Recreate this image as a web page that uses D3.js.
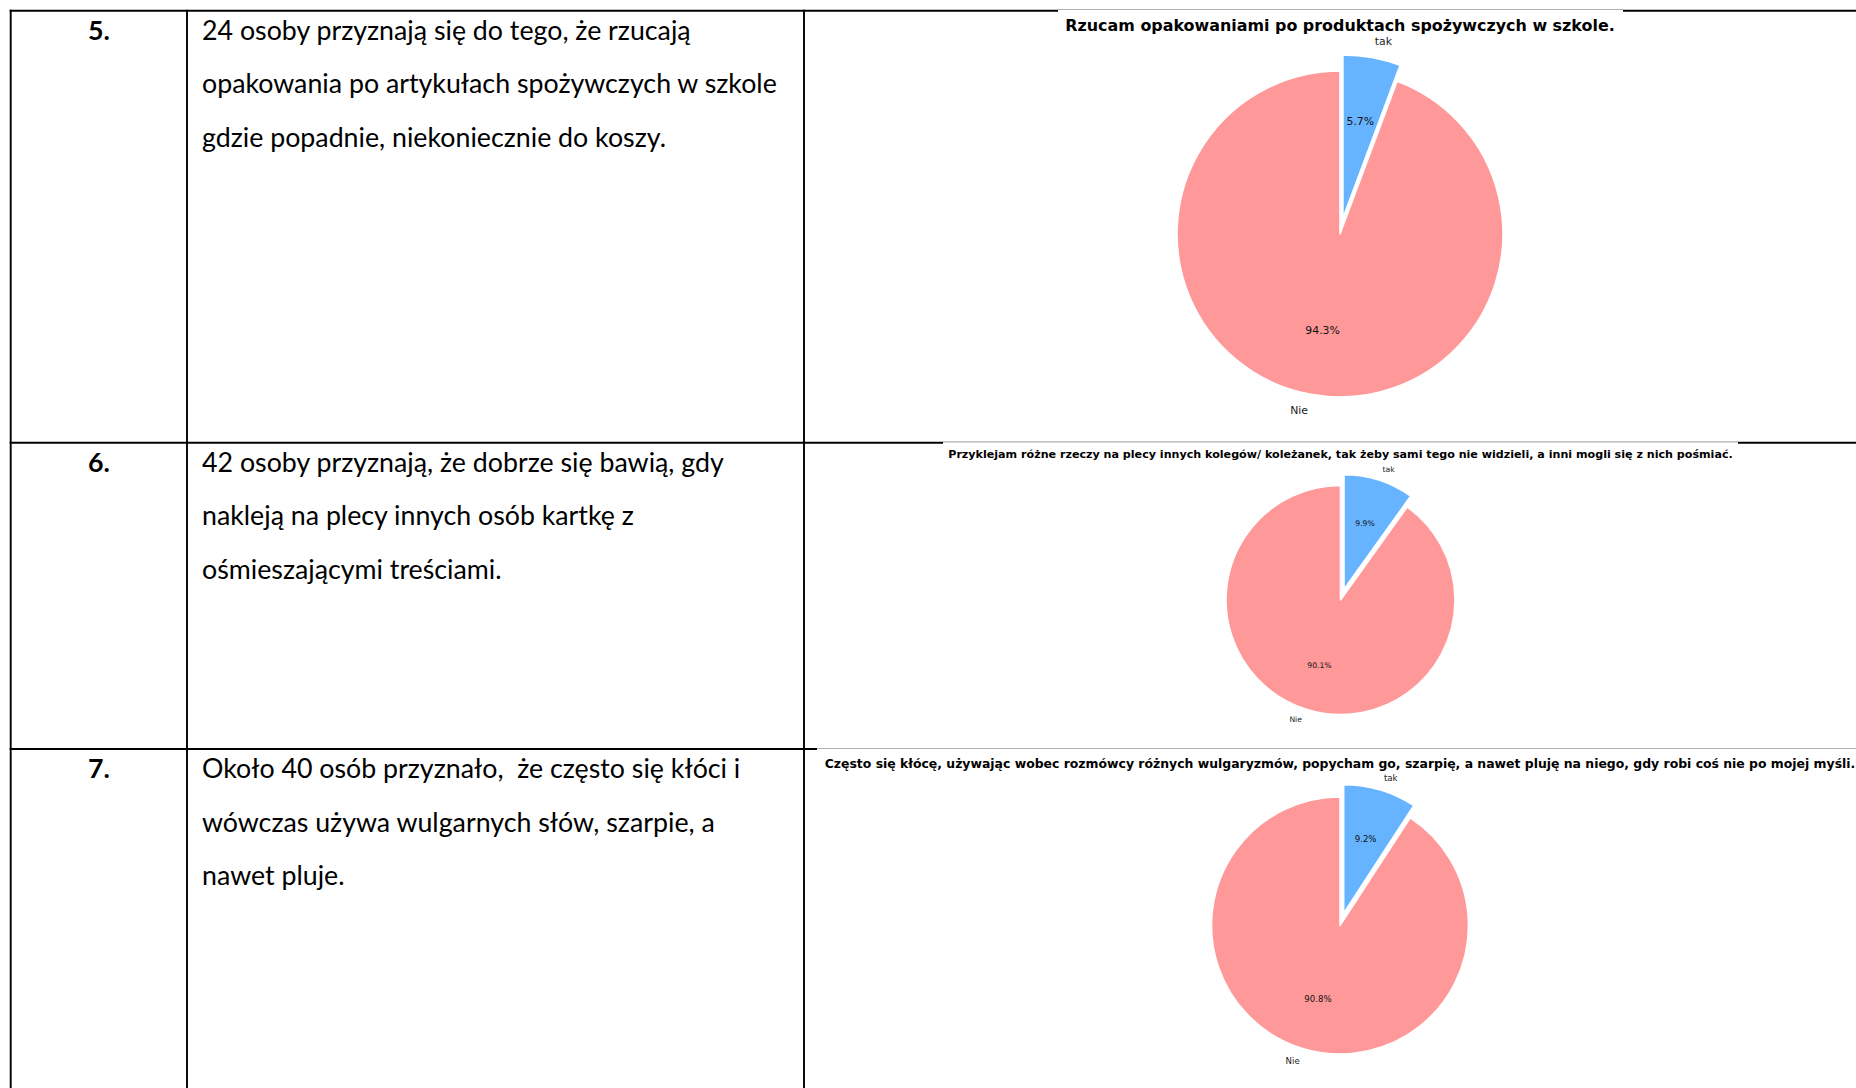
<!DOCTYPE html>
<html><head><meta charset="utf-8">
<script src="https://cdn.jsdelivr.net/npm/d3@7"></script>
<style>html,body{margin:0;padding:0;background:#fff;overflow:hidden}</style>
</head><body>
<svg id="c" width="1856" height="1088"></svg>
<script>
// ---- data ----
const rowNumbers = ["5.", "6.", "7."];
const rowTexts = [
  ["24 osoby przyznają się do tego, że rzucają", "opakowania po artykułach spożywczych w szkole", "gdzie popadnie, niekoniecznie do koszy."],
  ["42 osoby przyznają, że dobrze się bawią, gdy", "nakleją na plecy innych osób kartkę z", "ośmieszającymi treściami."],
  ["Około 40 osób przyznało,  że często się kłóci i", "wówczas używa wulgarnych słów, szarpie, a", "nawet pluje."]
];
const chartTitles = [
  "Rzucam opakowaniami po produktach spożywczych w szkole.",
  "Przyklejam różne rzeczy na plecy innych kolegów/ koleżanek, tak żeby sami tego nie widzieli, a inni mogli się z nich pośmiać.",
  "Często się kłócę, używając wobec rozmówcy różnych wulgaryzmów, popycham go, szarpię, a nawet pluję na niego, gdy robi coś nie po mojej myśli."
];
const sliceLabels = ["tak", "Nie"];
const takValues = [5.7, 9.9, 9.2];
const nieValues = [94.3, 90.1, 90.8];
const sliceColors = ["#66b3ff", "#ff9999"];
const explode = [0.1, 0];

// ---- layout ----
const W = 1856, H = 1088;
const colX = [10.7, 187, 804];
const rowY = [10.7, 442.7, 749];
const textX = 202, numX = 99, firstBase = 29, lineGap = 53.6;
const figs = [
  {x: 1058, y: 9, w: 565, h: 420, cx: 1340, cy: 234, r: 163, ty: 25, tw: 550},
  {x: 943, y: 441.5, w: 795, h: 300, cx: 1340.5, cy: 600, r: 114.5, ty: 454, tw: 785},
  {x: 817, y: 748, w: 1100, h: 345, cx: 1340, cy: 925.5, r: 128.5, ty: 763, tw: 1032}
];

const svg = d3.select("#c");
const bodyFont = "Lato, 'Open Sans', sans-serif";
const chartFont = "'DejaVu Sans', sans-serif";

// table borders
const gLines = svg.append("g").attr("stroke", "#000").attr("stroke-width", 1.9);
rowY.forEach(y => gLines.append("line").attr("x1", colX[0] - 1).attr("x2", W).attr("y1", y).attr("y2", y));
colX.forEach(x => gLines.append("line").attr("x1", x).attr("x2", x).attr("y1", rowY[0] - 1).attr("y2", H));

// body text size fit
const probe = svg.append("text").attr("font-family", bodyFont).attr("font-size", 100).text(rowTexts[0][1]);
const bodySize = 100 * 575 / probe.node().getComputedTextLength();
probe.remove();

rowTexts.forEach((lines, i) => {
  svg.append("text").attr("x", numX).attr("y", rowY[i] + firstBase)
    .attr("text-anchor", "middle").attr("font-family", bodyFont).attr("font-weight", "bold")
    .attr("font-size", bodySize).attr("fill", "#000").text(rowNumbers[i]);
  lines.forEach((t, j) => {
    svg.append("text").attr("x", textX).attr("y", rowY[i] + firstBase + j * lineGap)
      .attr("font-family", bodyFont).attr("font-size", bodySize).attr("fill", "#000")
      .style("white-space", "pre").text(t);
  });
});

// charts
figs.forEach((f, i) => {
  const g = svg.append("g");
  g.append("rect").attr("x", f.x).attr("y", f.y).attr("width", f.w).attr("height", f.h).attr("fill", "#fff");
  g.append("line").attr("x1", f.x).attr("x2", f.x + f.w).attr("y1", f.y + 0.5).attr("y2", f.y + 0.5)
    .attr("stroke", "#9a9a9a").attr("stroke-width", 0.8);

  // title
  const tt = g.append("text").attr("x", f.cx).attr("y", f.ty).attr("text-anchor", "middle")
    .attr("dominant-baseline", "central").attr("font-family", chartFont).attr("font-weight", "bold")
    .attr("font-size", 20).attr("fill", "#000").text(chartTitles[i]);
  const tl = tt.node().getComputedTextLength();
  tt.attr("font-size", 20 * f.tw / tl);

  const data = [
    {label: sliceLabels[0], v: takValues[i], color: sliceColors[0], ex: explode[0]},
    {label: sliceLabels[1], v: nieValues[i], color: sliceColors[1], ex: explode[1]}
  ];
  const arcs = d3.pie().sort(null).value(d => d.v).startAngle(0).endAngle(2 * Math.PI)(data);
  const arc = d3.arc().innerRadius(0).outerRadius(f.r);
  const fs = f.r * 0.067;
  arcs.forEach(a => {
    const mid = (a.startAngle + a.endAngle) / 2;
    const sx = Math.sin(mid), sy = -Math.cos(mid);
    const ox = f.cx + a.data.ex * f.r * sx, oy = f.cy + a.data.ex * f.r * sy;
    g.append("path").attr("d", arc(a)).attr("transform", `translate(${ox},${oy})`)
      .attr("fill", a.data.color).attr("stroke", "#fff").attr("stroke-width", 1.6).attr("stroke-linejoin", "round");
    g.append("text").attr("x", ox + 1.1 * f.r * sx).attr("y", oy + 1.1 * f.r * sy)
      .attr("text-anchor", sx > 0 ? "start" : "end").attr("dominant-baseline", "central")
      .attr("font-family", chartFont).attr("font-size", fs).attr("fill", "#222").text(a.data.label);
    g.append("text").attr("x", ox + 0.6 * f.r * sx).attr("y", oy + 0.6 * f.r * sy)
      .attr("text-anchor", "middle").attr("dominant-baseline", "central")
      .attr("font-family", chartFont).attr("font-size", fs).attr("fill", "#111")
      .text(d3.format(".1f")(a.data.v) + "%");
  });
});
</script>
</body></html>
